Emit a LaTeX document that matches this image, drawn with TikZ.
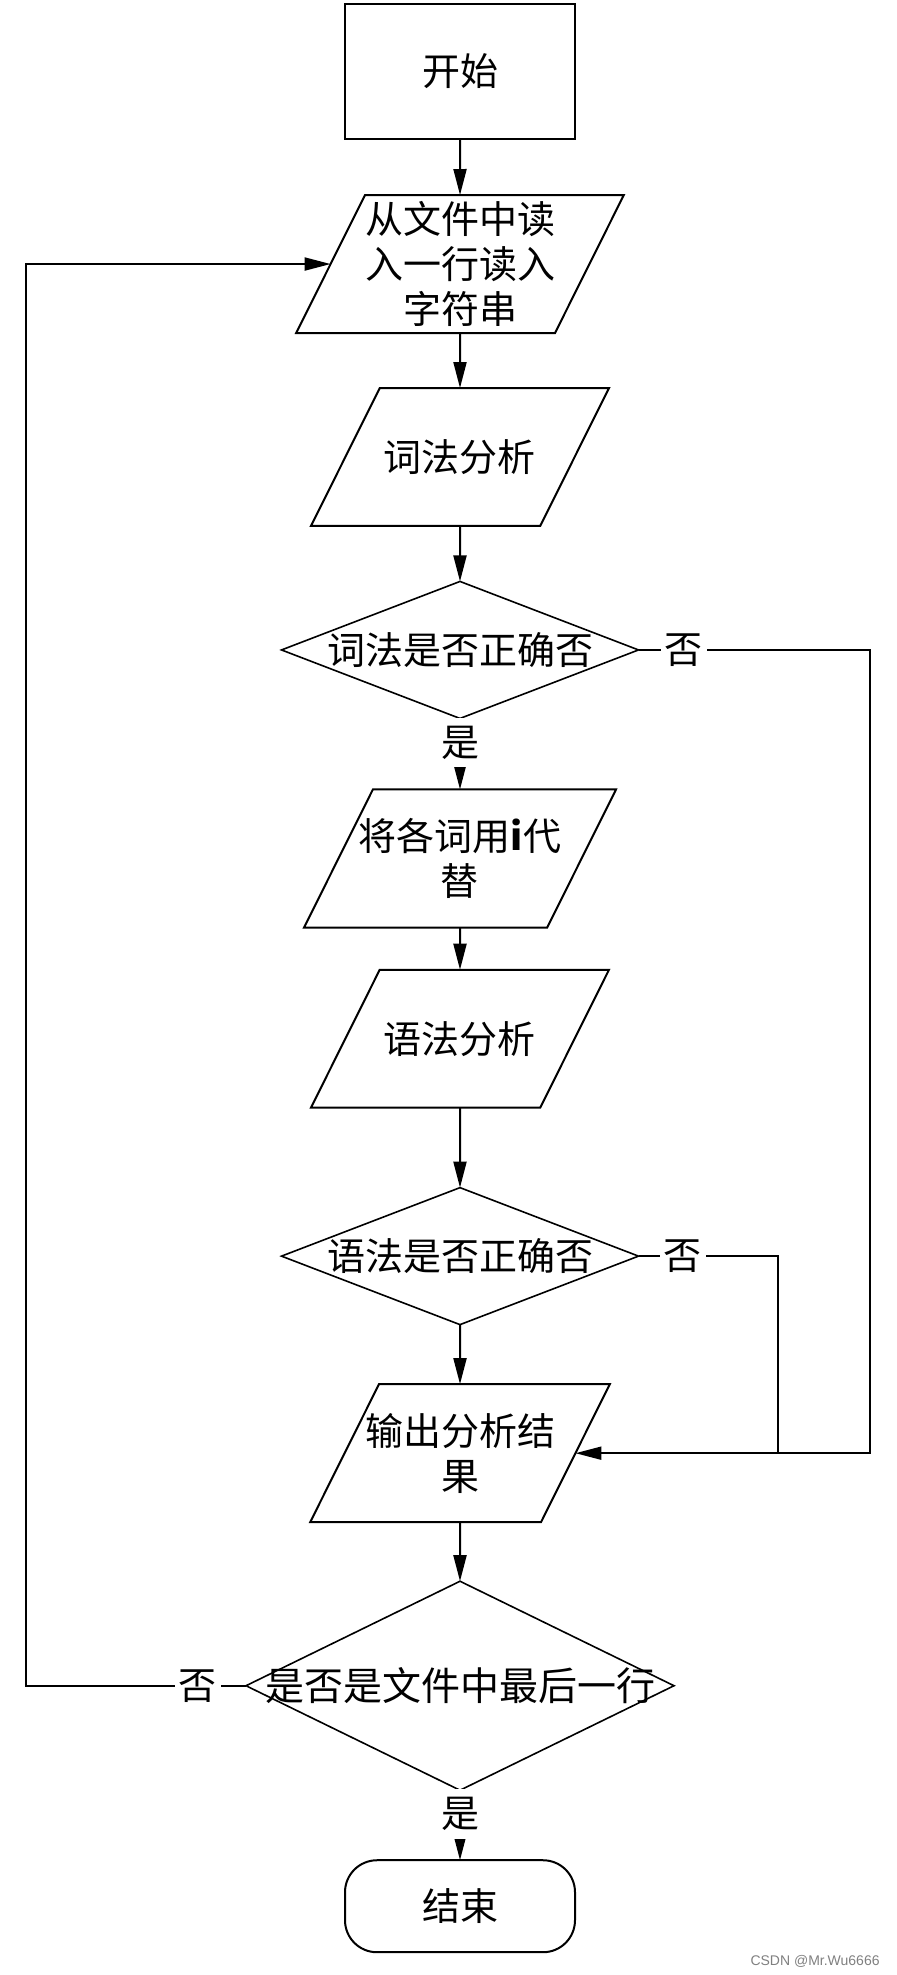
\documentclass[tikz,border=0pt]{standalone}
\usepackage{fontspec}
\setmainfont{Noto Sans CJK SC}
\newfontfamily\markfont{Liberation Sans}
\usepackage{tikz}
\usetikzlibrary{positioning,shapes.geometric,arrows.meta}

\begin{document}
\begin{tikzpicture}[
	every node/.style={font=\fontsize{19}{22.5}\selectfont},
	line/.style={line width=1pt},
	arr/.style={line, -{Triangle[length=13pt,width=6.5pt]}},
	process/.style={draw, line, outer sep=0pt, minimum width=115pt, minimum height=67.5pt},
	io/.style={
		trapezium, draw, line, align=center, outer sep=0pt,
		inner xsep=0pt, inner ysep=25.7pt,
		trapezium left angle=63.5, trapezium right angle=116.5,
		trapezium stretches body,
		minimum width=149pt, minimum height=68.5pt
	},
	decision/.style={diamond, draw, line width=0.8pt, inner sep=0pt, outer sep=0pt,
		minimum width=178.5pt, minimum height=68.5pt},
	terminal/.style={draw, line, rounded corners=16pt, outer sep=0pt,
		minimum width=115pt, minimum height=46pt},
	lbl/.style={fill=white, inner sep=2pt},
	yes/.style={lbl, inner ysep=4pt}
	]
	\useasboundingbox (0,0) rectangle (448pt,-987.5pt);
	
	\node[process] (start) at (230pt,-35.75pt) {开始};
	\node[io, inner ysep=3.2pt, minimum width=158pt, below=28pt of start] (read)
	{从文件中读\\入一行读入\\字符串};
	\node[io, below=27.5pt of read] (lex) {词法分析};
	\node[decision, below=27.75pt of lex, label=center:词法是否正确否] (lexok) {};
	\node[io, inner ysep=14.5pt, inner xsep=-7pt, minimum width=156pt,
	below=35.5pt of lexok] (subst) {将各词用\textbf{i}代\\替};
	\node[io, below=21pt of subst] (syn) {语法分析};
	\node[decision, below=40pt of syn, label=center:语法是否正确否] (synok) {};
	\node[io, inner ysep=14.5pt, inner xsep=-7pt, below=29.75pt of synok] (out)
	{输出分析结\\果};
	\node[decision, minimum width=214pt, minimum height=104.5pt, below=29.5pt of out,
	label={[font=\fontsize{19.5}{23}\selectfont]center:是否是文件中最后一行}] (last) {};
	\node[terminal, below=35pt of last] (end) {结束};
	
	% main flow
	\draw[arr] (start) -- (read);
	\draw[arr] (read) -- (lex);
	\draw[arr] (lex) -- (lexok);
	\draw[arr] (lexok) -- node[yes, pos=0.34] {是} (subst);
	\draw[arr] (subst) -- (syn);
	\draw[arr] (syn) -- (synok);
	\draw[arr] (synok) -- (out);
	\draw[arr] (out) -- (last);
	\draw[arr] (last) -- node[yes, pos=0.34] {是} (end);
	
	% no branches
	\draw[arr] (lexok.east) -- node[lbl, pos=0.195] {否} ++(115.5pt,0) |- (out.east);
	\draw[line] (synok.east) -- node[lbl, pos=0.32] {否} ++(69.5pt,0) coordinate (join)
	-- (join |- out.east);
	\draw[arr] (last.west) -- node[lbl, pos=0.22] {否} ++(-110pt,0) |- (read.west);
	
	\node[font=\markfont\fontsize{7}{8}\selectfont, text=gray, anchor=east, inner sep=0pt]
	(mark) at (440pt,-980.5pt) {CSDN @Mr.Wu6666};
\end{tikzpicture}
\end{document}
